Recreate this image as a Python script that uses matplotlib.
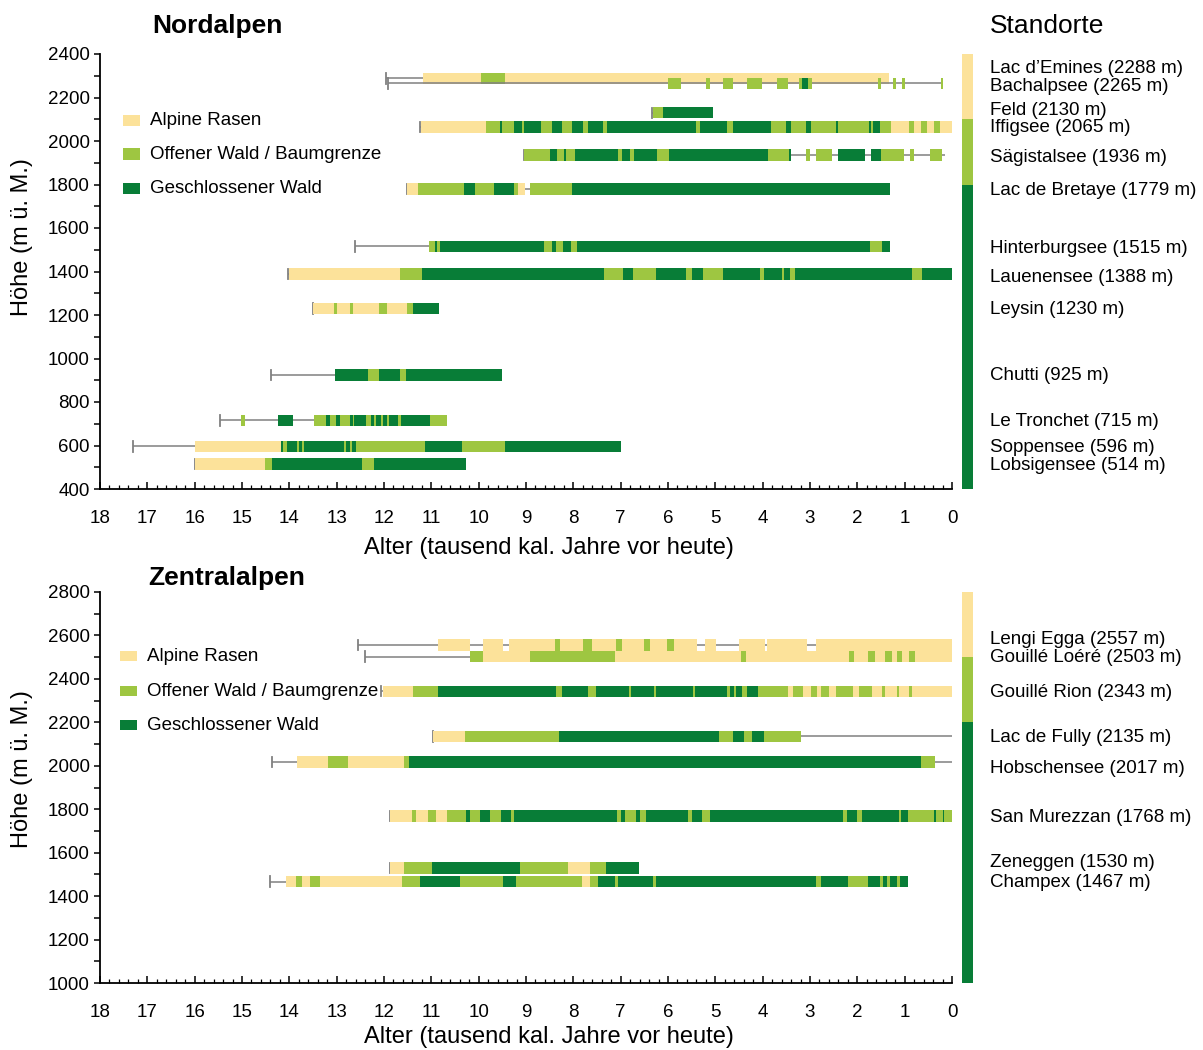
import matplotlib
matplotlib.use('Agg')
import matplotlib.pyplot as plt
from matplotlib.patches import Rectangle
from matplotlib.transforms import blended_transform_factory
from matplotlib.ticker import MultipleLocator

plt.rcParams['font.family'] = ['Liberation Sans', 'DejaVu Sans']

# vegetation codes: A = Alpine Rasen, O = Offener Wald / Baumgrenze,
# G = Geschlossener Wald, '-' = Sequenz ohne Zuordnung (graue Linie)
veg_colors = {'A': '#fce29a', 'O': '#9ec641', 'G': '#087d37'}
veg_names = ['Alpine Rasen', 'Offener Wald / Baumgrenze', 'Geschlossener Wald']
grey = '#808080'

# ---------------- Nordalpen ----------------
nord_names = ['Lac d\u2019Emines', 'Bachalpsee', 'Feld', 'Iffigsee', 'Sägistalsee',
              'Lac de Bretaye', 'Hinterburgsee', 'Lauenensee', 'Leysin', 'Chutti',
              'Le Tronchet', 'Soppensee', 'Lobsigensee']
nord_elev = [2288, 2265, 2130, 2065, 1936, 1779, 1515, 1388, 1230, 925, 715, 596, 514]
nord_label_y = [2333, 2250, 2140, 2062, 1924, 1772, 1505, 1372, 1225, 921, 710, 590, 507]
nord_start = [11.96, 11.92, 6.34, 11.25, 9.05, 11.52, 12.61, 14.03, 13.49, 14.39, 15.47, 17.30, 15.99]

emines_b = [11.17, 9.95, 9.45, 1.34]
emines_v = "AOA"
bachalp_b = [11.92, 6.00, 5.72, 5.20, 5.12, 4.83, 4.63, 4.33, 4.01, 3.70, 3.47, 3.23,
             3.17, 3.04, 2.96, 1.56, 1.49, 1.25, 1.18, 1.06, 0.99, 0.23, 0.19]
bachalp_v = "-O-O-O-O-O-OGO-O-O-O-O"
feld_b = [6.32, 6.11, 5.05]
feld_v = "OG"
iffig_b = [11.22, 9.85, 9.55, 9.50, 9.26, 9.08, 9.05, 8.68, 8.46, 8.24, 8.03, 7.80, 7.70,
           7.38, 7.29, 5.40, 5.33, 4.75, 4.63, 3.83, 3.51, 3.40, 3.09, 2.98, 2.46, 2.40,
           1.76, 1.72, 1.66, 1.53, 1.29, 0.91, 0.81, 0.65, 0.53, 0.37, 0.26, 0.0]
iffig_v = "AOGOGOGOGOGOGOGOGOGOGOGOGOGOGOAOAOAOA"
saegi_b = [9.05, 8.50, 8.34, 8.20, 8.16, 7.97, 7.05, 6.97, 6.80, 6.71, 6.24, 5.98, 3.89,
           3.45, 3.40, 3.09, 3.00, 2.88, 2.54, 2.40, 1.84, 1.72, 1.50, 1.01, 0.89, 0.81,
           0.47, 0.22, 0.14]
saegi_v = "OGOGOGOGOGOGOG-O-O-G-GO-O-O-"
bretaye_b = [11.52, 11.28, 10.30, 10.07, 9.68, 9.25, 9.16, 9.02, 8.91, 8.03, 1.31]
bretaye_v = "AOGOGOA-OG"
hinter_b = [11.05, 10.92, 10.87, 10.81, 8.63, 8.45, 8.36, 8.22, 8.04, 7.92, 1.74, 1.48, 1.30]
hinter_v = "OGOGOGOGOGOG"
lauenen_b = [14.00, 11.66, 11.19, 7.35, 6.96, 6.75, 6.26, 5.61, 5.49, 5.26, 4.83, 4.06,
             3.98, 3.60, 3.54, 3.42, 3.31, 0.85, 0.64, 0.0]
lauenen_v = "AOGOGOGOGOGOGOGOGOG"
leysin_b = [13.49, 13.05, 13.00, 12.72, 12.66, 12.11, 11.94, 11.51, 11.38, 10.83]
leysin_v = "AOAOAOAOG"
chutti_b = [13.04, 12.33, 12.10, 11.66, 11.54, 9.51]
chutti_v = "GOGOG"
tronchet_b = [15.03, 14.94, 14.25, 13.93, 13.48, 13.23, 13.14, 13.02, 12.92, 12.72, 12.66,
              12.63, 12.38, 12.28, 12.21, 12.16, 12.06, 12.03, 11.94, 11.90, 11.70, 11.65,
              11.03, 10.66]
tronchet_v = "O-G-OGOGOGOGOGOGOGOGOGO"
soppen_b = [15.99, 14.18, 14.14, 14.04, 13.84, 13.80, 13.74, 13.70, 12.85, 12.80, 12.72,
            12.68, 12.59, 11.13, 10.36, 9.44, 6.99]
soppen_v = "AGOGOGOGOGOGOGOG"
lobsig_b = [15.99, 14.52, 14.37, 12.47, 12.22, 10.27]
lobsig_v = "AOGOG"

nord_bounds = [emines_b, bachalp_b, feld_b, iffig_b, saegi_b, bretaye_b, hinter_b,
               lauenen_b, leysin_b, chutti_b, tronchet_b, soppen_b, lobsig_b]
nord_veg = [emines_v, bachalp_v, feld_v, iffig_v, saegi_v, bretaye_v, hinter_v,
            lauenen_v, leysin_v, chutti_v, tronchet_v, soppen_v, lobsig_v]

# ---------------- Zentralalpen ----------------
zent_names = ['Lengi Egga', 'Gouillé Loéré', 'Gouillé Rion', 'Lac de Fully',
              'Hobschensee', 'San Murezzan', 'Zeneggen', 'Champex']
zent_elev = [2557, 2503, 2343, 2135, 2017, 1768, 1530, 1467]
zent_label_y = [2581, 2498, 2337, 2130, 1987, 1761, 1554, 1462]
zent_start = [12.54, 12.41, 12.06, 10.96, 14.36, 11.88, 11.88, 14.41]

lengi_b = [10.85, 10.19, 9.90, 9.49, 9.35, 8.39, 8.28, 7.79, 7.61, 7.09, 6.98, 6.51, 6.37,
           6.02, 5.88, 5.38, 5.22, 4.98, 4.50, 3.96, 3.90, 3.06, 2.88, 0.0]
lengi_v = "A-A-AOAOAOAOAOA-A-A-A-A"
loere_b = [10.19, 9.90, 8.91, 7.13, 4.46, 4.35, 2.18, 2.07, 1.77, 1.62, 1.42, 1.27, 1.17,
           1.06, 0.90, 0.78, 0.0]
loere_v = "OAOAOAOAOAOAOAOA"
rion_b = [12.02, 11.39, 10.85, 8.36, 8.24, 7.69, 7.52, 6.82, 6.78, 6.29, 6.25, 5.48, 5.42,
          4.76, 4.70, 4.60, 4.56, 4.43, 4.33, 4.09, 3.47, 3.35, 3.14, 2.98, 2.85, 2.77,
          2.59, 2.46, 2.09, 1.97, 1.69, 1.47, 1.42, 1.17, 1.11, 0.90, 0.84, 0.0]
rion_v = "AOGOGOGOGOGOGOGOGOGOAOAOAOAOAOAOAOAOA"
fully_b = [10.96, 10.28, 8.30, 4.93, 4.62, 4.39, 4.23, 3.98, 3.18, 0.0]
fully_v = "AOGOGOGO-"
hobschen_b = [13.84, 13.18, 12.76, 11.57, 11.47, 0.66, 0.35, 0.0]
hobschen_v = "AOAOGO-"
murezzan_b = [11.88, 11.41, 11.32, 11.08, 10.90, 10.66, 10.26, 10.19, 9.97, 9.76, 9.53,
              9.32, 9.25, 7.08, 7.00, 6.90, 6.68, 6.60, 6.46, 5.57, 5.49, 5.28, 5.11, 2.31,
              2.22, 2.00, 1.91, 1.13, 1.07, 0.92, 0.38, 0.33, 0.19, 0.16, 0.0]
murezzan_v = "AOAOAOGOGOGOGOGOGOGOGOGOGOGOGOGOGO"
zenegg_b = [11.88, 11.58, 10.99, 9.12, 8.11, 7.64, 7.31, 6.62]
zenegg_v = "AOGOAOG"
champex_b = [14.08, 13.85, 13.74, 13.56, 13.35, 11.62, 11.24, 10.40, 9.48, 9.22, 7.81, 7.64,
             7.48, 7.12, 7.05, 6.32, 6.25, 2.88, 2.77, 2.19, 1.77, 1.53, 1.46, 1.37, 1.30,
             1.16, 1.09, 0.93]
champex_v = "AOAOAOGOGOAOGOGOGOGOGOGOGOG"

zent_bounds = [lengi_b, loere_b, rion_b, fully_b, hobschen_b, murezzan_b, zenegg_b, champex_b]
zent_veg = [lengi_v, loere_v, rion_v, fully_v, hobschen_v, murezzan_v, zenegg_v, champex_v]

# Höhenstufen (rechte Farbleiste)
nord_zone_b = [400, 1800, 2100, 2400]
zent_zone_b = [1000, 2200, 2500, 2800]
zone_v = "GOA"

W, H = 1203, 1050
fig = plt.figure(figsize=(W / 100, H / 100), dpi=100)


def fx(px):
    return px / W


def fy(py):
    return 1 - py / H


def draw_panel(ax, names, elev, starts, bounds, vegs, label_y, ylim, yticks):
    bar_h = 53
    for i, (e, t0, b, v) in enumerate(zip(elev, starts, bounds, vegs)):
        assert len(b) == len(v) + 1, names[i]
        z = 2 + i * 0.01
        ax.plot([t0, b[-1]], [e, e], color=grey, lw=1.1, solid_capstyle='butt', zorder=z)
        ax.plot([t0, t0], [e - 24, e + 24], color=grey, lw=1.3, zorder=z)
        for k, code in enumerate(v):
            if code == '-':
                continue
            ax.barh(e, b[k] - b[k + 1], left=b[k + 1], height=bar_h,
                    color=veg_colors[code], linewidth=0, zorder=z + 0.005)
    ax.set_xlim(18, 0)
    ax.set_ylim(*ylim)
    for s in ['top', 'right']:
        ax.spines[s].set_visible(False)
    for s in ['left', 'bottom']:
        ax.spines[s].set_linewidth(1.3)
    ax.set_xticks(range(0, 19))
    ax.set_xticklabels([str(t) for t in range(0, 19)])
    ax.xaxis.set_minor_locator(MultipleLocator(0.2))
    ax.set_yticks(yticks)
    ax.yaxis.set_minor_locator(MultipleLocator(100))
    ax.tick_params(axis='x', which='major', direction='in', length=5, width=1.1,
                   labelsize=13.5, pad=15)
    ax.tick_params(axis='x', which='minor', direction='in', length=3, width=0.9)
    ax.tick_params(axis='y', which='both', direction='out', length=4.5, width=1.1,
                   labelsize=13.5, pad=3)
    tr = blended_transform_factory(ax.transAxes, ax.transData)
    for n, e, ly in zip(names, elev, label_y):
        ax.text(1.0446, ly, f"{n} ({e} m)", transform=tr, ha='left', va='center',
                fontsize=13.5, clip_on=False)


def draw_legend(ax, x0, ys, tx):
    for code, name, y in zip("AOG", veg_names, ys):
        ax.add_patch(Rectangle((x0, y - 0.012), 0.0205, 0.026, transform=ax.transAxes,
                               facecolor=veg_colors[code], linewidth=0, clip_on=False))
        ax.text(tx, y, name, transform=ax.transAxes, ha='left', va='center', fontsize=13.5)


def draw_zones(rect, zb, ylim):
    zax = fig.add_axes(rect)
    for k, code in enumerate(zone_v):
        zax.bar(0, zb[k + 1] - zb[k], bottom=zb[k], width=1, color=veg_colors[code],
                linewidth=0)
    zax.set_xlim(-0.5, 0.5)
    zax.set_ylim(*ylim)
    zax.axis('off')


# top panel: x 100..952 px, y 54..489 px
ax1 = fig.add_axes([fx(100), fy(489), fx(852), (489 - 54) / H])
draw_panel(ax1, nord_names, nord_elev, nord_start, nord_bounds, nord_veg, nord_label_y,
           (400, 2400), range(400, 2401, 200))
draw_legend(ax1, 0.027, [0.846, 0.769, 0.690], 0.0587)
draw_zones([fx(962), fy(489), fx(11), (489 - 54) / H], nord_zone_b, (400, 2400))

# bottom panel: x 100..952 px, y 592..983 px
ax2 = fig.add_axes([fx(100), fy(983), fx(852), (983 - 592) / H])
draw_panel(ax2, zent_names, zent_elev, zent_start, zent_bounds, zent_veg, zent_label_y,
           (1000, 2800), range(1000, 2801, 200))
draw_legend(ax2, 0.0235, [0.836, 0.746, 0.659], 0.0552)
draw_zones([fx(962), fy(983), fx(11), (983 - 592) / H], zent_zone_b, (1000, 2800))

# titles and axis labels
fig.text(fx(152), fy(26), 'Nordalpen', fontsize=19, fontweight='bold', ha='left', va='center')
fig.text(fx(148), fy(578), 'Zentralalpen', fontsize=19, fontweight='bold', ha='left', va='center')
fig.text(fx(990), fy(26), 'Standorte', fontsize=19, ha='left', va='center')
for yl in [548, 1037]:
    fig.text(fx(549), fy(yl), 'Alter (tausend kal. Jahre vor heute)', fontsize=17,
             ha='center', va='center')
for yl in [237, 769]:
    fig.text(fx(22), fy(yl), 'Höhe (m ü. M.)', fontsize=17, rotation=90,
             ha='center', va='center')

fig.savefig('out.png', dpi=100)
